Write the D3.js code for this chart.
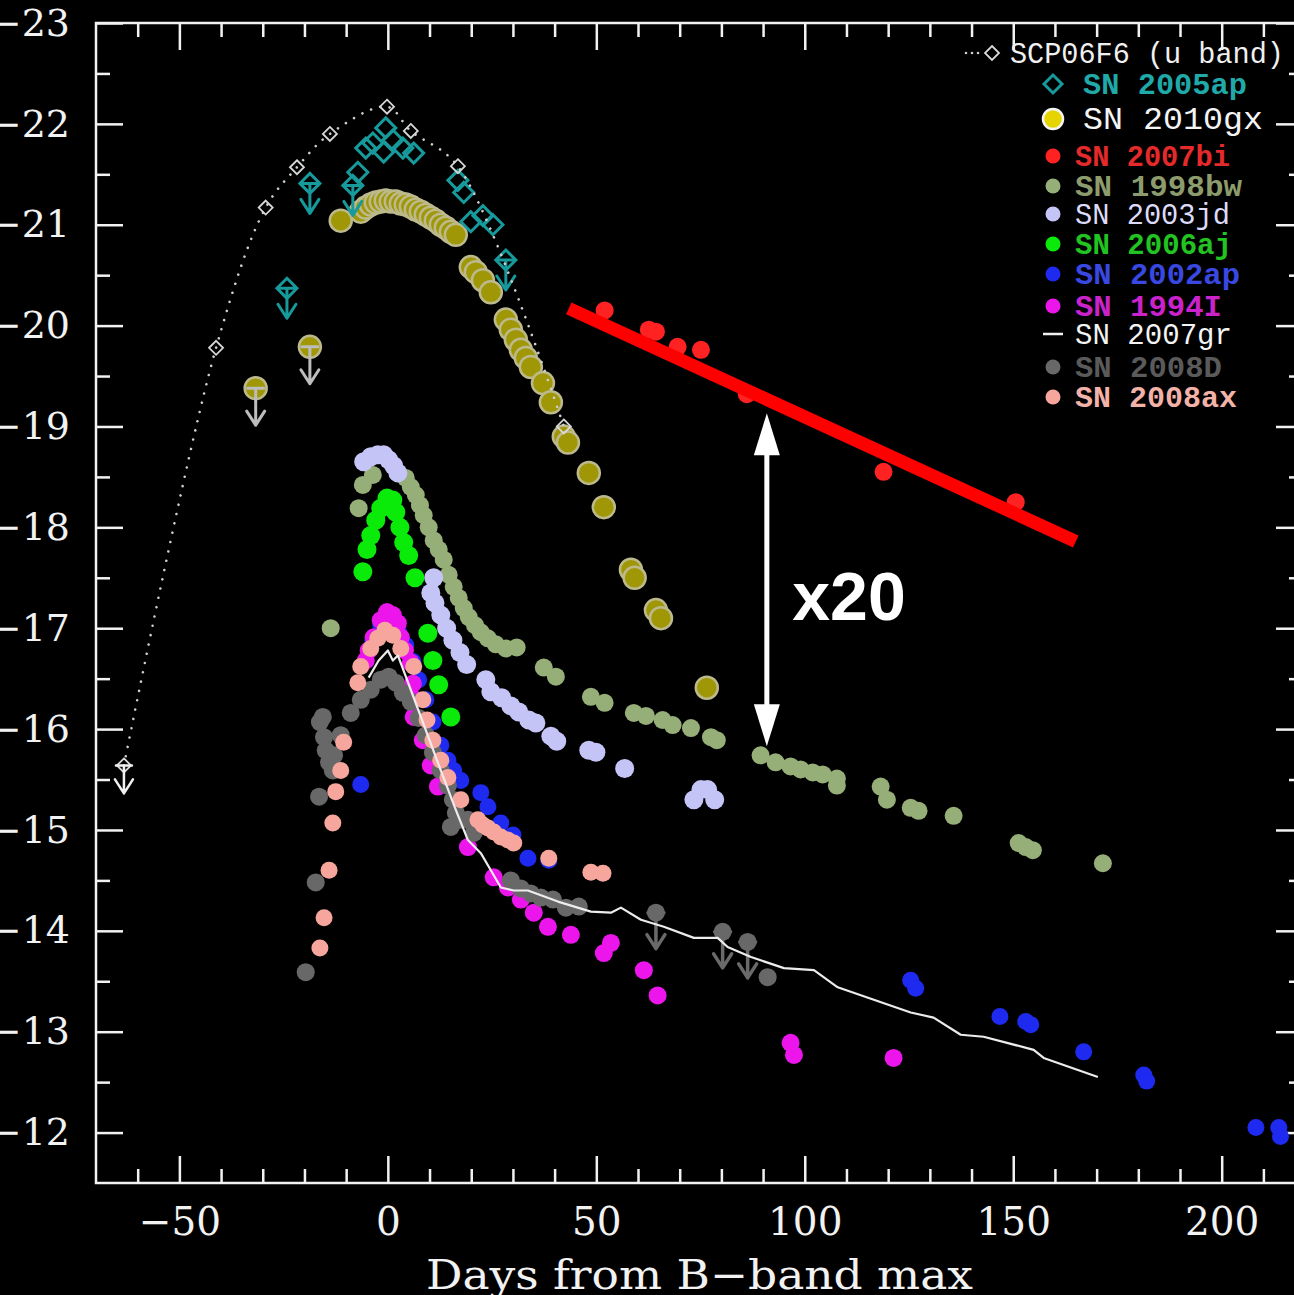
<!DOCTYPE html>
<html><head><meta charset="utf-8">
<script src="https://cdn.jsdelivr.net/npm/d3@7"></script>
<style>html,body{margin:0;padding:0;background:#000;overflow:hidden}</style>
</head><body>
<svg id="chart" width="1294" height="1295"></svg>
<script>
// ---------------- DATA (days from B-band max, absolute magnitude) ----------------
const scp06f6 = [[-63.3,-15.64],[-41.2,-19.78],[-29.3,-21.17],[-21.8,-21.57],[-13.9,-21.90],[-0.2,-22.17],[5.5,-21.93],[16.8,-21.58],[42.2,-19.00]];
const scp06f6Limits = [[-63.3,-15.64]];

const sn2005ap = [[-7.2,-21.52],[-5.3,-21.76],[-3.6,-21.81],[-0.5,-21.96],[-1.0,-21.72],[1.2,-21.84],[3.6,-21.76],[6.2,-21.71],[16.8,-21.44],[18.2,-21.32],[19.9,-21.03],[22.8,-21.09],[25.2,-21.00]];
const sn2005apLimits = [[-24.2,-20.37],[-18.7,-21.41],[-8.4,-21.39],[28.3,-20.65]];

const sn2010gx = [[-11.3,-21.04],[-6.5,-21.13],[-5.3,-21.17],[-4.1,-21.20],[-2.9,-21.22],[-1.7,-21.23],[-0.5,-21.24],[0.7,-21.23],[1.9,-21.23],[3.1,-21.21],[4.3,-21.20],[5.5,-21.18],[6.7,-21.15],[7.9,-21.13],[9.1,-21.10],[10.3,-21.07],[11.5,-21.04],[12.7,-21.00],[13.9,-20.97],[15.1,-20.93],[16.3,-20.90],[19.9,-20.58],[21.1,-20.53],[22.8,-20.45],[24.7,-20.33],[28.3,-20.06],[29.5,-19.96],[30.7,-19.86],[31.9,-19.76],[33.1,-19.68],[34.3,-19.59],[37.2,-19.43],[39.1,-19.24],[42.2,-18.90],[43.2,-18.84],[48.2,-18.54],[51.8,-18.20],[58.3,-17.58],[59.2,-17.50],[64.3,-17.18],[65.5,-17.10],[76.5,-16.41]];
const sn2010gxLimits = [[-31.7,-19.38],[-18.7,-19.79]];

const sn2007bi = [[52.0,-20.15],[62.6,-19.96],[64.3,-19.94],[69.5,-19.79],[75.1,-19.76],[86.1,-19.32],[118.9,-18.55],[150.6,-18.25]];

const sn1998bw = [[-13.7,-17.00],[-7.0,-18.19],[-6.0,-18.42],[-3.6,-18.52],[4.3,-18.49],[5.5,-18.40],[6.7,-18.32],[7.7,-18.22],[8.6,-18.12],[9.8,-18.00],[11.0,-17.87],[12.2,-17.78],[13.4,-17.68],[14.6,-17.53],[15.8,-17.41],[17.0,-17.30],[18.2,-17.20],[19.4,-17.11],[20.9,-17.03],[22.3,-16.96],[24.0,-16.90],[25.9,-16.84],[28.3,-16.80],[30.9,-16.81],[37.4,-16.61],[40.3,-16.52],[48.7,-16.32],[52.0,-16.26],[59.0,-16.16],[61.9,-16.13],[65.9,-16.09],[68.3,-16.04],[72.7,-16.01],[77.5,-15.92],[78.9,-15.89],[89.4,-15.74],[93.0,-15.67],[96.6,-15.63],[99.0,-15.60],[101.9,-15.57],[104.3,-15.55],[107.7,-15.51],[107.7,-15.44],[118.2,-15.43],[119.7,-15.30],[125.4,-15.22],[127.3,-15.19],[135.7,-15.14],[151.3,-14.87],[153.0,-14.83],[154.7,-14.80],[171.5,-14.67]];

const sn2003jd = [[-5.8,-18.65],[-4.1,-18.70],[-2.4,-18.72],[-1.0,-18.72],[0.2,-18.67],[1.4,-18.61],[2.4,-18.54],[11.0,-17.50],[10.3,-17.35],[11.3,-17.25],[12.7,-17.13],[14.1,-17.00],[15.6,-16.88],[17.3,-16.76],[18.9,-16.64],[23.5,-16.49],[24.7,-16.37],[27.3,-16.31],[29.5,-16.23],[31.4,-16.17],[33.8,-16.09],[35.5,-16.06],[39.1,-15.93],[40.5,-15.88],[48.2,-15.79],[49.9,-15.77],[56.8,-15.61],[73.4,-15.30],[75.1,-15.40],[76.7,-15.40],[78.4,-15.30]];

const sn2006aj = [[-6.0,-17.56],[-5.0,-17.78],[-4.1,-17.92],[-2.9,-18.07],[-1.7,-18.19],[-0.2,-18.29],[1.2,-18.27],[1.9,-18.15],[2.9,-18.00],[3.8,-17.85],[5.0,-17.72],[6.5,-17.50],[9.6,-16.95],[10.8,-16.68],[12.2,-16.44],[15.1,-16.12]];

const sn2002ap = [[-6.5,-15.45],[-3.6,-16.88],[-1.7,-17.03],[0.7,-17.06],[2.6,-16.96],[4.3,-16.83],[6.0,-16.67],[7.4,-16.49],[9.1,-16.29],[10.8,-16.07],[12.7,-15.84],[14.4,-15.69],[15.8,-15.59],[17.5,-15.49],[22.3,-15.37],[24.0,-15.23],[27.1,-15.07],[30.0,-14.95],[33.6,-14.72],[38.6,-14.70],[125.4,-13.51],[126.6,-13.43],[146.8,-13.15],[153.0,-13.10],[154.2,-13.07],[166.9,-12.80],[181.3,-12.57],[182.0,-12.51],[208.2,-12.05],[213.7,-12.05],[214.1,-11.96]];

const sn1994I = [[-5.3,-16.68],[-4.6,-16.78],[-3.4,-16.91],[-1.7,-17.08],[-0.2,-17.16],[1.2,-17.13],[2.4,-17.05],[3.1,-16.91],[4.1,-16.78],[5.5,-16.66],[6.0,-16.45],[6.2,-16.30],[6.2,-16.12],[8.4,-15.89],[10.3,-15.64],[12.0,-15.43],[19.2,-14.83],[25.4,-14.53],[28.8,-14.43],[31.9,-14.31],[35.0,-14.18],[38.4,-14.04],[43.9,-13.96],[51.8,-13.78],[53.5,-13.88],[61.4,-13.61],[64.7,-13.36],[96.6,-12.89],[97.4,-12.77],[121.3,-12.74]];

const sn2007gr = [[-4.6,-16.51],[-2.2,-16.68],[0,-16.78],[1.2,-16.68],[2.4,-16.73],[5.5,-16.39],[9.1,-15.99],[12.7,-15.59],[16.3,-15.20],[19.2,-14.90],[22.3,-14.77],[24.7,-14.60],[27.1,-14.43],[30.2,-14.40],[33.6,-14.40],[40.8,-14.29],[48.7,-14.19],[53.5,-14.18],[55.9,-14.23],[60.7,-14.11],[66.2,-14.04],[73.4,-13.93],[79.1,-13.93],[81.5,-13.84],[87.1,-13.74],[95.0,-13.63],[102.2,-13.61],[107.9,-13.44],[125.4,-13.19],[130.9,-13.14],[137.4,-12.97],[142.9,-12.95],[154.9,-12.82],[157.3,-12.74],[170.3,-12.55]];

const sn2008D = [[-19.7,-13.59],[-17.3,-14.48],[-16.5,-15.33],[-16.3,-16.07],[-15.6,-16.12],[-15.3,-15.92],[-14.9,-15.79],[-14.1,-15.67],[-13.2,-15.59],[-12.9,-15.74],[-11.3,-15.94],[-8.9,-16.16],[-6.5,-16.29],[-4.1,-16.39],[-1.7,-16.49],[0.2,-16.52],[1.9,-16.46],[3.6,-16.36],[5.5,-16.27],[7.4,-16.11],[9.1,-15.94],[10.8,-15.77],[12.7,-15.59],[14.4,-15.44],[15.6,-15.30],[16.3,-15.17],[15.1,-15.03],[17.5,-15.10],[19.2,-15.10],[20.6,-14.97],[29.5,-14.50],[31.9,-14.42],[34.3,-14.37],[36.7,-14.33],[39.6,-14.31],[42.7,-14.23],[45.8,-14.24],[91.1,-13.54]];
const sn2008DLimits = [[64.3,-14.18],[80.3,-13.99],[86.3,-13.89]];

const sn2008ax = [[-16.3,-13.83],[-15.3,-14.13],[-14.1,-14.60],[-13.2,-15.07],[-12.5,-15.38],[-11.3,-15.59],[-10.6,-15.87],[-7.2,-16.46],[-6.5,-16.62],[-4.1,-16.80],[-2.4,-16.90],[-0.7,-16.98],[1.2,-16.93],[3.1,-16.80],[6.2,-16.62],[8.4,-16.29],[9.4,-16.09],[10.8,-15.89],[12.7,-15.69],[14.4,-15.52],[17.5,-15.30],[21.6,-15.10],[22.8,-15.05],[24.0,-15.02],[25.4,-14.98],[27.1,-14.93],[28.8,-14.90],[30.2,-14.87],[38.6,-14.72],[48.7,-14.58],[51.6,-14.57]];

// annotations (data coordinates)
const trendLine = [[43.4,-20.17],[165.0,-17.86]];
const ratioArrow = [[90.9,-19.13],[90.9,-15.83]];
const ratioText = "x20";
const ratioTextAt = [97.0,-17.08];

// axes
const xMajorTicks = [-50, 0, 50, 100, 150, 200];
const xMinorTicks = [-60,-40,-30,-20,-10,10,20,30,40,60,70,80,90,110,120,130,140,160,170,180,190,210];
const yMajorTicks = [-23,-22,-21,-20,-19,-18,-17,-16,-15,-14,-13,-12];
const yMinorTicks = [-22.5,-21.5,-20.5,-19.5,-18.5,-17.5,-16.5,-15.5,-14.5,-13.5,-12.5];
const xTitle = "Days from B−band max";

// legend
const legendLabels = ["SCP06F6 (u band)","SN 2005ap","SN 2010gx","SN 2007bi","SN 1998bw","SN 2003jd","SN 2006aj","SN 2002ap","SN 1994I","SN 2007gr","SN 2008D","SN 2008ax"];
const legendTextColors = ["#f0f0f0","#1fa9a9","#f4f4f4","#e42a2a","#8c9c6c","#dcdcfa","#22c422","#3a48e2","#cc22cc","#f4f4f4","#5a5a5a","#f2b2a8"];
const legendKinds = ["scp","diamond","gx","dot","dot","dot","dot","dot","dot","line","dot","dot"];
const legendMarkerColors = ["#d8d8d8","#179a9c","#e6d400","#ff2222","#96ae78","#c4c4f6","#0aeb0a","#1e2af0","#ec16ec","#f0f0f0","#686868","#f6a69c"];

// ---------------- DRAWING ----------------
const svg = d3.select("#chart");
svg.append("rect").attr("width",1294).attr("height",1295).attr("fill","#000");

const x = d3.scaleLinear().domain([-70, 219.5]).range([96, 1303]);
const y = d3.scaleLinear().domain([-23, -11.5]).range([23, 1183]);

const AX = "#f2f2f2";
const serif = "'DejaVu Serif', serif";

function styleAxis(g, fontSize) {
  g.select(".domain").remove();
  g.selectAll(".tick line").attr("stroke", AX).attr("stroke-width", 2.5);
  g.selectAll(".tick text").attr("fill", AX).attr("font-family", serif).attr("font-size", fontSize);
}

// bottom
svg.append("g").attr("transform",`translate(0,${y(-11.5)})`)
  .call(d3.axisBottom(x).tickValues(xMajorTicks).tickSize(-27).tickPadding(24).tickFormat(d3.format("d")))
  .call(g => styleAxis(g, 39));
svg.append("g").attr("transform",`translate(0,${y(-11.5)})`)
  .call(d3.axisBottom(x).tickValues(xMinorTicks).tickSize(-14).tickFormat(""))
  .call(g => styleAxis(g, 0));
// top
svg.append("g").attr("transform",`translate(0,${y(-23)})`)
  .call(d3.axisTop(x).tickValues(xMajorTicks).tickSize(-27).tickFormat(""))
  .call(g => styleAxis(g, 0));
svg.append("g").attr("transform",`translate(0,${y(-23)})`)
  .call(d3.axisTop(x).tickValues(xMinorTicks).tickSize(-14).tickFormat(""))
  .call(g => styleAxis(g, 0));
// left
svg.append("g").attr("transform",`translate(${x(-70)},0)`)
  .call(d3.axisLeft(y).tickValues(yMajorTicks).tickSize(-27).tickPadding(26).tickFormat(d3.format("d")))
  .call(g => styleAxis(g, 38));
svg.append("g").attr("transform",`translate(${x(-70)},0)`)
  .call(d3.axisLeft(y).tickValues(yMinorTicks).tickSize(-14).tickFormat(""))
  .call(g => styleAxis(g, 0));
// right
svg.append("g").attr("transform",`translate(${x(219.5)},0)`)
  .call(d3.axisRight(y).tickValues(yMajorTicks).tickSize(-27).tickFormat(""))
  .call(g => styleAxis(g, 0));
svg.append("g").attr("transform",`translate(${x(219.5)},0)`)
  .call(d3.axisRight(y).tickValues(yMinorTicks).tickSize(-14).tickFormat(""))
  .call(g => styleAxis(g, 0));

// frame
svg.append("rect").attr("x", x(-70)).attr("y", y(-23))
  .attr("width", x(219.5)-x(-70)).attr("height", y(-11.5)-y(-23))
  .attr("fill","none").attr("stroke",AX).attr("stroke-width",2.5);

// axis title
svg.append("text").attr("x", (x(-70)+x(219.5))/2).attr("y", 1289)
  .attr("text-anchor","middle").attr("fill",AX).attr("font-family",serif).attr("font-size",41)
  .attr("textLength",547).attr("lengthAdjust","spacingAndGlyphs").text(xTitle);

// clip
svg.append("clipPath").attr("id","plotclip").append("rect")
  .attr("x", x(-70)).attr("y", y(-23)).attr("width", x(219.5)-x(-70)).attr("height", y(-11.5)-y(-23));
const plot = svg.append("g").attr("clip-path","url(#plotclip)");

function diamondPath(cx, cy, h) {
  return `M${cx},${cy-h}L${cx+h},${cy}L${cx},${cy+h}L${cx-h},${cy}Z`;
}
function limitArrow(g, cx, cy, len, color, w) {
  const p = d3.path();
  p.moveTo(cx-8, cy); p.lineTo(cx+8, cy);
  p.moveTo(cx, cy); p.lineTo(cx, cy+len);
  p.moveTo(cx-9, cy+len-14); p.lineTo(cx, cy+len); p.lineTo(cx+9, cy+len-14);
  g.append("path").attr("d", p.toString()).attr("fill","none").attr("stroke",color)
    .attr("stroke-width",w).attr("stroke-linecap","round").attr("stroke-linejoin","round");
}
function dots(data, color, r) {
  plot.append("g").selectAll("circle").data(data).join("circle")
    .attr("cx", d => x(d[0])).attr("cy", d => y(d[1])).attr("r", r).attr("fill", color);
}

// SN 2010gx (olive circles)
const gxFill = "#a09706", gxStroke = "#bcb98c";
sn2010gxLimits.forEach(d => {
  plot.append("circle").attr("cx",x(d[0])).attr("cy",y(d[1])).attr("r",11)
    .attr("fill",gxFill).attr("stroke",gxStroke).attr("stroke-width",2.5);
  limitArrow(plot, x(d[0]), y(d[1]), 37, "#bdbdbd", 3);
});
plot.append("g").selectAll("circle").data(sn2010gx).join("circle")
  .attr("cx", d => x(d[0])).attr("cy", d => y(d[1])).attr("r", 11)
  .attr("fill", gxFill).attr("stroke", gxStroke).attr("stroke-width", 2.5);

// SN 2005ap (cyan diamonds)
const apCol = "#179a9c";
plot.append("g").selectAll("path").data(sn2005ap.concat(sn2005apLimits)).join("path")
  .attr("d", d => diamondPath(x(d[0]), y(d[1]), 10))
  .attr("fill","none").attr("stroke",apCol).attr("stroke-width",3);
sn2005apLimits.forEach(d => limitArrow(plot, x(d[0]), y(d[1]), 30, apCol, 3));

// SCP06F6 (dotted curve + small diamonds)
plot.append("path").datum(scp06f6)
  .attr("d", d3.line().x(d => x(d[0])).y(d => y(d[1])).curve(d3.curveCatmullRom.alpha(0.5)))
  .attr("fill","none").attr("stroke","#cfcfcf").attr("stroke-width",2.6)
  .attr("stroke-dasharray","0.01 9.5").attr("stroke-linecap","round");
plot.append("g").selectAll("path").data(scp06f6).join("path")
  .attr("d", d => diamondPath(x(d[0]), y(d[1]), 7))
  .attr("fill","none").attr("stroke","#d8d8d8").attr("stroke-width",1.8);
scp06f6Limits.forEach(d => limitArrow(plot, x(d[0]), y(d[1]), 28, "#f0f0f0", 2.5));

// filled-dot supernovae
dots(sn2007bi, "#ff2222", 9);
dots(sn1998bw, "#96ae78", 9);
dots(sn2003jd, "#c4c4f6", 9.5);
dots(sn2006aj, "#0aeb0a", 9.5);
dots(sn2002ap, "#1e2af0", 8.5);
dots(sn1994I, "#ec16ec", 9);
sn2008DLimits.forEach(d => limitArrow(plot, x(d[0]), y(d[1]), 36, "#6a6a6a", 3.5));
dots(sn2008D.concat(sn2008DLimits), "#686868", 9);
dots(sn2008ax, "#f6a69c", 8.5);

// SN 2007gr (white line)
plot.append("path").datum(sn2007gr)
  .attr("d", d3.line().x(d => x(d[0])).y(d => y(d[1])))
  .attr("fill","none").attr("stroke","#ececec").attr("stroke-width",2.2).attr("stroke-linejoin","round");

// ---------------- ANNOTATIONS ----------------
svg.append("line")
  .attr("x1", x(trendLine[0][0])).attr("y1", y(trendLine[0][1]))
  .attr("x2", x(trendLine[1][0])).attr("y2", y(trendLine[1][1]))
  .attr("stroke","#ff0000").attr("stroke-width",13);

const ax0 = x(ratioArrow[0][0]), ayTop = y(ratioArrow[0][1]), ayBot = y(ratioArrow[1][1]);
const headL = 42, headW = 13;
svg.append("line").attr("x1",ax0).attr("x2",ax0).attr("y1",ayTop+headL-2).attr("y2",ayBot-headL+2)
  .attr("stroke","#fff").attr("stroke-width",5);
svg.append("path").attr("d",`M${ax0},${ayTop}L${ax0+headW},${ayTop+headL}L${ax0-headW},${ayTop+headL}Z`).attr("fill","#fff");
svg.append("path").attr("d",`M${ax0},${ayBot}L${ax0+headW},${ayBot-headL}L${ax0-headW},${ayBot-headL}Z`).attr("fill","#fff");

svg.append("text").attr("x", x(ratioTextAt[0])).attr("y", y(ratioTextAt[1]))
  .attr("fill","#fff").attr("font-family","'Liberation Sans', Arial, sans-serif")
  .attr("font-weight","bold").attr("font-size",68).text(ratioText);

// ---------------- LEGEND ----------------
const legendRowY = [53,84,118,156,186,214,244,274,306,334,367,397];
const legendTextX = [1010,1083,1083,1075,1075,1075,1075,1075,1075,1075,1075,1075];
const legendTextW = [274,164,180,155,167,155,157,165,147,157,147,162];
const mono = "'Liberation Mono', 'DejaVu Sans Mono', monospace";
const leg = svg.append("g");
legendLabels.forEach((lab, i) => {
  const cy = legendRowY[i], mc = legendMarkerColors[i], kind = legendKinds[i];
  if (kind === "scp") {
    leg.append("line").attr("x1",966).attr("x2",984).attr("y1",cy).attr("y2",cy)
      .attr("stroke","#cfcfcf").attr("stroke-width",2.6).attr("stroke-dasharray","0.01 6").attr("stroke-linecap","round");
    leg.append("path").attr("d",diamondPath(992,cy,7)).attr("fill","none").attr("stroke",mc).attr("stroke-width",1.8);
  } else if (kind === "diamond") {
    leg.append("path").attr("d",diamondPath(1053,cy,9)).attr("fill","none").attr("stroke",mc).attr("stroke-width",3);
  } else if (kind === "gx") {
    leg.append("circle").attr("cx",1053).attr("cy",cy+1).attr("r",10).attr("fill",mc).attr("stroke","#f4f4f4").attr("stroke-width",2.5);
  } else if (kind === "line") {
    leg.append("line").attr("x1",1043).attr("x2",1063).attr("y1",cy).attr("y2",cy).attr("stroke",mc).attr("stroke-width",2.5);
  } else {
    leg.append("circle").attr("cx",1053).attr("cy",cy).attr("r",7.5).attr("fill",mc);
  }
  const big = kind === "gx";
  const white = legendTextColors[i] === "#f4f4f4" || i === 0 || i === 5;
  leg.append("text").attr("x", legendTextX[i]).attr("y", cy + (big ? 11 : 10))
    .attr("fill", legendTextColors[i]).attr("font-family", mono)
    .attr("font-weight", white ? "normal" : "bold")
    .attr("font-size", big ? 32 : 29)
    .attr("textLength", legendTextW[i]).attr("lengthAdjust", "spacingAndGlyphs")
    .text(lab);
});
</script>
</body></html>
